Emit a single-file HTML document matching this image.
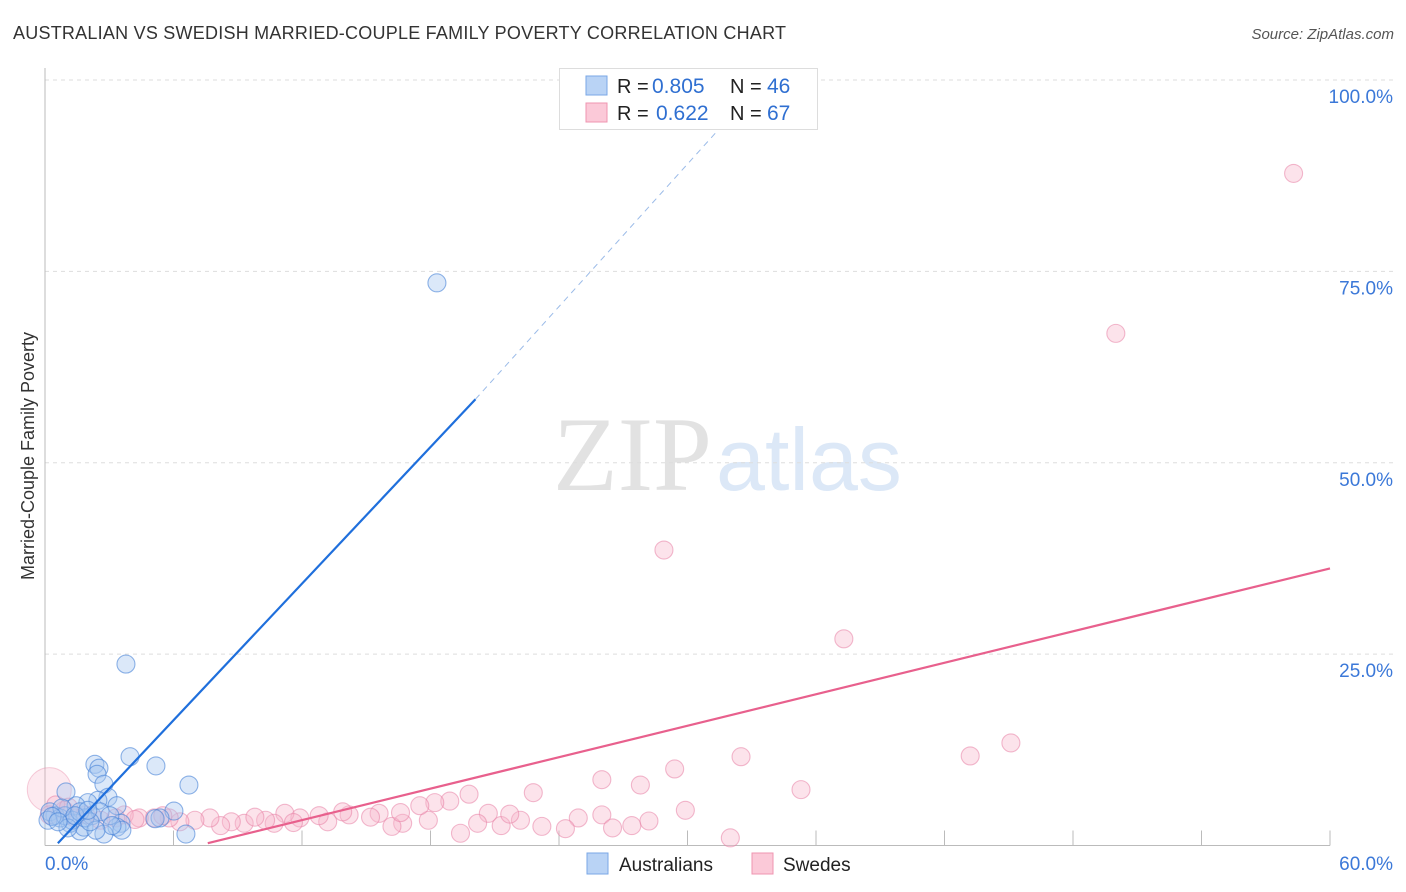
<!DOCTYPE html>
<html><head><meta charset="utf-8"><style>
body{margin:0;background:#fff;font-family:"Liberation Sans",sans-serif;}
svg{display:block}
</style></head><body>
<svg id="chart" width="1406" height="892" xmlns="http://www.w3.org/2000/svg">
<text x="13" y="39" font-size="18" fill="#333" textLength="773">AUSTRALIAN VS SWEDISH MARRIED-COUPLE FAMILY POVERTY CORRELATION CHART</text>
<text x="1394" y="39" font-size="15" fill="#555" font-style="italic" text-anchor="end">Source: ZipAtlas.com</text>
<text transform="translate(34,456) rotate(-90)" font-size="18" fill="#333" text-anchor="middle">Married-Couple Family Poverty</text>
<g>
<text x="553" y="490" font-family="Liberation Serif,serif" font-size="106" fill="#e2e2e2">ZIP</text>
<text x="716" y="490" font-size="88" fill="#dce8f7">atlas</text>
</g>
<g id="grid"></g><g id="axes"></g><g id="pts"></g><g id="lines"></g>
<g>
<rect x="559.5" y="68.5" width="258" height="61" fill="#fff" stroke="#ddd"/>
<rect x="586" y="76" width="21" height="19" fill="#b9d3f5" stroke="#7aa7e6"/>
<rect x="586" y="103" width="21" height="19" fill="#fbc9d8" stroke="#ef95b0"/>
<text x="617" y="93" font-size="20" fill="#222">R =</text>
<text x="652" y="93" font-size="21" fill="#2f6fd1">0.805</text>
<text x="730" y="93" font-size="20" fill="#222">N =</text>
<text x="767" y="93" font-size="21" fill="#2f6fd1">46</text>
<text x="617" y="120" font-size="20" fill="#222">R =</text>
<text x="656" y="120" font-size="21" fill="#2f6fd1">0.622</text>
<text x="730" y="120" font-size="20" fill="#222">N =</text>
<text x="767" y="120" font-size="21" fill="#2f6fd1">67</text>
</g>
<g>
<rect x="587" y="853" width="21" height="21" fill="#b9d3f5" stroke="#7aa7e6"/>
<text x="619" y="871" font-size="19" fill="#222">Australians</text>
<rect x="752" y="853" width="21" height="21" fill="#fbc9d8" stroke="#ef95b0"/>
<text x="783" y="871" font-size="19" fill="#222">Swedes</text>
</g>
</svg>
<script>
const yTicks=[25,50,75,100];
const yTickLabels=["25.0%","50.0%","75.0%","100.0%"];
const xTicks=[6,12,18,24,30,36,42,48,54,60];
const xEndLabels=["0.0%","60.0%"];
const ausX=[18.3,3.78,3.97,5.18,6.72,2.33,2.52,2.43,2.75,0.98,2.94,2.47,3.36,2.0,1.45,6.02,5.37,5.14,3.55,3.36,3.59,6.58,2.75,1.63,1.82,1.17,0.47,0.23,0.7,0.93,2.19,2.57,1.87,0.14,1.26,1.63,3.03,0.79,3.13,2.38,1.07,2.1,0.33,0.61,1.4,2.0];
const ausY=[73.5,23.7,11.6,10.4,7.9,10.6,10.1,9.3,8.0,7.0,6.3,5.9,5.2,5.6,5.2,4.5,3.6,3.5,2.9,2.4,2.0,1.5,1.5,1.9,2.4,2.9,3.9,4.4,3.6,3.9,3.9,4.4,3.6,3.3,3.3,4.4,3.9,4.9,2.6,2.0,2.3,3.1,3.8,3.1,3.9,4.6];
const sweX=[58.3,50.0,28.9,37.3,45.1,43.2,32.5,29.4,26.0,27.8,35.3,22.8,19.8,29.9,26.0,24.9,28.2,27.4,26.5,24.3,23.2,22.2,21.3,20.7,20.2,19.4,18.9,18.2,17.9,16.7,16.2,15.6,15.2,14.2,13.2,12.8,11.9,11.2,10.7,10.3,9.3,8.7,8.2,7.7,7.0,6.3,5.8,5.1,4.4,3.7,3.3,2.6,1.9,1.4,0.9,0.5,0.2,32.0,17.5,21.7,11.6,13.9,9.8,5.5,4.2,1.1,16.6];
const sweY=[87.8,66.9,38.6,27.0,13.4,11.7,11.6,10.0,8.6,7.9,7.3,6.9,6.7,4.6,4.0,3.6,3.2,2.6,2.3,2.2,2.5,3.3,2.6,4.2,2.9,1.6,5.8,5.6,3.3,2.9,2.5,4.2,3.7,4.0,3.1,3.9,3.6,4.2,2.9,3.3,2.9,3.1,2.6,3.6,3.3,3.1,3.6,3.6,3.6,4.0,3.6,3.3,4.0,3.6,4.6,5.3,4.0,1.0,5.2,4.1,3.0,4.4,3.7,3.9,3.4,5.0,4.3];
const ausFit=[0.6,0.3,20.1,58.3,32.7,97.4];
const sweFit=[7.6,0.3,60,36.2];
const NS="http://www.w3.org/2000/svg";
const X0=45,X1=1330,Y0=845.5,YTOP=80;
const xs=v=>X0+v/60*(X1-X0);
const ys=v=>Y0-v/100*(Y0-YTOP);
function mk(tag,attrs,parent){const e=document.createElementNS(NS,tag);for(const k in attrs)e.setAttribute(k,attrs[k]);document.getElementById(parent).appendChild(e);return e;}
yTicks.forEach((t,i)=>{
 const g=mk('line',{x1:X0,x2:1394,y1:ys(t),y2:ys(t),stroke:'#ddd','stroke-dasharray':'4,4'},'grid');
 
 
 const l=mk('text',{x:1393,y:ys(t)+23,'font-size':19,fill:'#3b78d8','text-anchor':'end'},'axes');
 l.textContent=yTickLabels[i];
 
 
});
const ax=mk('line',{x1:X0,x2:X0,y1:68,y2:Y0,stroke:'#bbb'},'axes');


const bx=mk('line',{x1:X0,x2:X1,y1:Y0,y2:Y0,stroke:'#bbb'},'axes');


xTicks.forEach(t=>{
 const tk=mk('line',{x1:xs(t),x2:xs(t),y1:Y0,y2:Y0-15,stroke:'#bbb'},'axes');
 
 
});
[[0,'start',X0],[1,'end',1393]].forEach(([i,a,x])=>{
 const l=mk('text',{x:x,y:870,'font-size':19,fill:'#3b78d8','text-anchor':a},'axes');
 l.textContent=xEndLabels[i];
 
 
});
const big=mk('circle',{cx:xs(0.2),cy:ys(7.3),r:22,fill:'rgba(246,170,195,0.25)',stroke:'rgba(230,120,155,0.35)'},'pts');


sweX.forEach((v,i)=>{
 const c=mk('circle',{cx:xs(v),cy:ys(sweY[i]),r:9,fill:'rgba(248,185,205,0.4)',stroke:'rgba(232,130,165,0.55)','stroke-width':1.1},'pts');
 
 
});
ausX.forEach((v,i)=>{
 const c=mk('circle',{cx:xs(v),cy:ys(ausY[i]),r:9,fill:'rgba(165,198,240,0.4)',stroke:'rgba(70,130,215,0.6)','stroke-width':1.1},'pts');
 
 
});
const a1=mk('line',{x1:xs(ausFit[0]),y1:ys(ausFit[1]),x2:xs(ausFit[2]),y2:ys(ausFit[3]),stroke:'#1f6fdc','stroke-width':2.2},'lines');


const a2=mk('line',{x1:xs(ausFit[2]),y1:ys(ausFit[3]),x2:xs(ausFit[4]),y2:ys(ausFit[5]),stroke:'#9bbbe8','stroke-width':1,'stroke-dasharray':'6,5'},'lines');


const s1=mk('line',{x1:xs(sweFit[0]),y1:ys(sweFit[1]),x2:xs(sweFit[2]),y2:ys(sweFit[3]),stroke:'#e8608d','stroke-width':2.2},'lines');


</script>
</body></html>
